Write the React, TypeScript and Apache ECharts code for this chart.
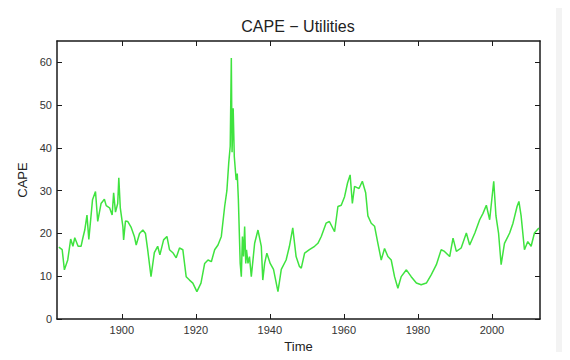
import React, { useEffect, useRef } from "react";
import * as echarts from "echarts";

const title = "CAPE \u2212 Utilities";
const xName = "Time";
const yName = "CAPE";
const xTicks = [1900, 1920, 1940, 1960, 1980, 2000];
const yTicks = [0, 10, 20, 30, 40, 50, 60];

const years = [
  1883.0, 1883.9, 1884.5, 1885.4, 1886.2, 1886.8, 1887.3, 1888.2, 1889.0, 1889.5,
  1890.0, 1890.6, 1891.1, 1892.1, 1892.9, 1893.5, 1894.4, 1895.3, 1895.8, 1896.7,
  1897.4, 1897.8, 1898.3, 1898.9, 1899.2, 1899.6, 1900.3, 1900.5, 1901.0, 1901.6,
  1902.5, 1903.4, 1903.9, 1904.8, 1905.7, 1906.4, 1907.0, 1907.9, 1908.8, 1909.7,
  1910.3, 1911.3, 1912.2, 1912.9, 1913.8, 1914.7, 1915.6, 1916.5, 1917.4, 1918.3,
  1919.2, 1920.3, 1921.4, 1922.4, 1923.3, 1924.2, 1925.1, 1926.0, 1926.9, 1927.8,
  1928.4, 1928.9, 1929.3, 1929.6, 1929.8, 1930.1, 1930.4, 1930.9, 1931.2, 1931.5,
  1932.0, 1932.3, 1932.6, 1932.9, 1933.2, 1933.5, 1933.7, 1934.1, 1934.5, 1935.0,
  1935.9, 1936.8, 1937.7, 1938.1, 1938.6, 1939.2, 1940.1, 1941.0, 1942.2, 1943.1,
  1944.4, 1945.3, 1946.2, 1947.1, 1948.0, 1948.5, 1949.4, 1950.7, 1952.1, 1953.0,
  1953.9, 1955.2, 1956.1, 1957.5, 1958.4, 1959.3, 1960.2, 1961.0, 1961.7, 1962.3,
  1962.9, 1964.1, 1965.0, 1965.9, 1966.5, 1967.4, 1968.3, 1969.2, 1970.1, 1971.0,
  1971.9, 1972.8, 1973.7, 1974.6, 1975.5, 1976.9, 1978.2, 1979.6, 1980.9, 1982.3,
  1983.6, 1985.0, 1986.3, 1987.2, 1988.6, 1989.5, 1990.4, 1991.7, 1993.1, 1994.0,
  1995.4, 1996.7, 1997.6, 1998.5, 1999.4, 2000.5, 2001.1, 2001.8, 2002.5, 2003.4,
  2004.8, 2005.7, 2006.8, 2007.3, 2007.9, 2008.8, 2009.7, 2010.6, 2011.5, 2012.7,
];

const cape = [
  16.8, 16.2, 11.5, 13.8, 18.7, 17.0, 19.0, 17.0, 17.0, 19.0,
  20.8, 24.3, 18.6, 27.9, 29.8, 22.8, 27.0, 28.0, 26.5, 26.0,
  24.3, 29.5, 25.0, 27.0, 33.0, 26.0, 21.6, 18.5, 22.9, 22.8,
  21.5, 19.3, 17.3, 20.0, 20.8, 20.0, 16.2, 9.9, 15.5, 17.0,
  15.0, 18.5, 19.3, 16.2, 15.5, 14.3, 16.6, 16.2, 9.9, 9.1,
  8.4, 6.4, 8.4, 13.0, 13.8, 13.4, 16.2, 17.3, 19.3, 26.3,
  30.0, 36.5, 40.4, 61.0, 39.0, 49.3, 38.0, 32.5, 34.0, 28.0,
  13.0, 9.9, 19.3, 14.6, 21.6, 13.0, 16.2, 13.0, 14.6, 9.9,
  17.7, 20.8, 17.0, 9.1, 13.0, 15.4, 13.0, 11.6, 6.4, 11.6,
  13.8, 17.0, 21.3, 14.6, 12.3, 11.9, 15.4, 16.2, 17.0, 17.7,
  19.3, 22.4, 22.8, 20.4, 26.3, 26.6, 28.6, 31.8, 33.7, 27.0,
  31.0, 30.5, 32.2, 29.5, 24.1, 22.4, 21.7, 17.7, 13.8, 16.5,
  14.6, 13.8, 9.9, 7.2, 9.9, 11.5, 9.9, 8.4, 8.0, 8.4,
  10.3, 12.7, 16.2, 15.8, 14.6, 18.9, 15.8, 16.6, 20.1, 17.3,
  20.1, 23.2, 24.7, 26.6, 23.2, 32.2, 24.1, 20.1, 12.7, 17.7,
  20.1, 22.4, 26.3, 27.5, 24.1, 16.2, 18.1, 17.0, 20.1, 21.3,
];

export default function App() {
  const ref = useRef<HTMLDivElement>(null);
  useEffect(() => {
    if (!ref.current) return;
    const chart = echarts.init(ref.current, null, { renderer: "svg" });
    const font = "Liberation Sans, Arial, sans-serif";
    const axisLine = { show: true, onZero: false, lineStyle: { color: "#1a1a1a", width: 1.5 } };
    const tick = (vals: number[]) => ({
      show: true,
      inside: true,
      length: 5,
      customValues: vals,
      lineStyle: { color: "#1a1a1a" },
    });
    const xMin = 1882.5;
    const xMax = 2013;
    chart.setOption({
      animation: false,
      backgroundColor: "#ffffff",
      graphic: [
        { type: "rect", shape: { x: 556, y: 0, width: 14, height: 360 }, style: { fill: "#f3f3f3" }, silent: true },
        {
          type: "text",
          x: 298,
          y: 26,
          style: {
            text: title,
            fontFamily: font,
            fontSize: 16,
            fill: "#222",
            align: "center",
            verticalAlign: "middle",
          },
        },
      ],
      grid: { left: 57, right: 30, top: 41, bottom: 41 },
      xAxis: [
        {
          type: "value",
          min: xMin,
          max: xMax,
          name: xName,
          nameLocation: "middle",
          nameGap: 21,
          nameTextStyle: { fontFamily: font, fontSize: 13, color: "#222" },
          axisLine,
          axisTick: tick(xTicks),
          axisLabel: {
            customValues: xTicks,
            formatter: (v: number) => String(v),
            fontFamily: font,
            fontSize: 11,
            color: "#333",
            margin: 5,
          },
          splitLine: { show: false },
        },
        {
          type: "value",
          position: "top",
          min: xMin,
          max: xMax,
          axisLine,
          axisTick: tick(xTicks),
          axisLabel: { show: false },
          splitLine: { show: false },
        },
      ],
      yAxis: [
        {
          type: "value",
          min: 0,
          max: 65,
          name: yName,
          nameLocation: "middle",
          nameGap: 16,
          nameTextStyle: { fontFamily: font, fontSize: 13, color: "#222" },
          axisLine,
          axisTick: tick(yTicks),
          axisLabel: {
            customValues: yTicks,
            formatter: (v: number) => String(v),
            fontFamily: font,
            fontSize: 11,
            color: "#333",
            margin: 5,
          },
          splitLine: { show: false },
        },
        {
          type: "value",
          position: "right",
          min: 0,
          max: 65,
          axisLine,
          axisTick: tick(yTicks),
          axisLabel: { show: false },
          splitLine: { show: false },
        },
      ],
      series: [
        {
          type: "line",
          data: years.map((y, i) => [y, cape[i]]),
          showSymbol: false,
          symbol: "none",
          lineStyle: { color: "#3fe33f", width: 1.5 },
          xAxisIndex: 0,
          yAxisIndex: 0,
        },
      ],
    });
    return () => chart.dispose();
  }, []);
  return <div ref={ref} style={{ width: 570, height: 360, margin: -8 }} />;
}
